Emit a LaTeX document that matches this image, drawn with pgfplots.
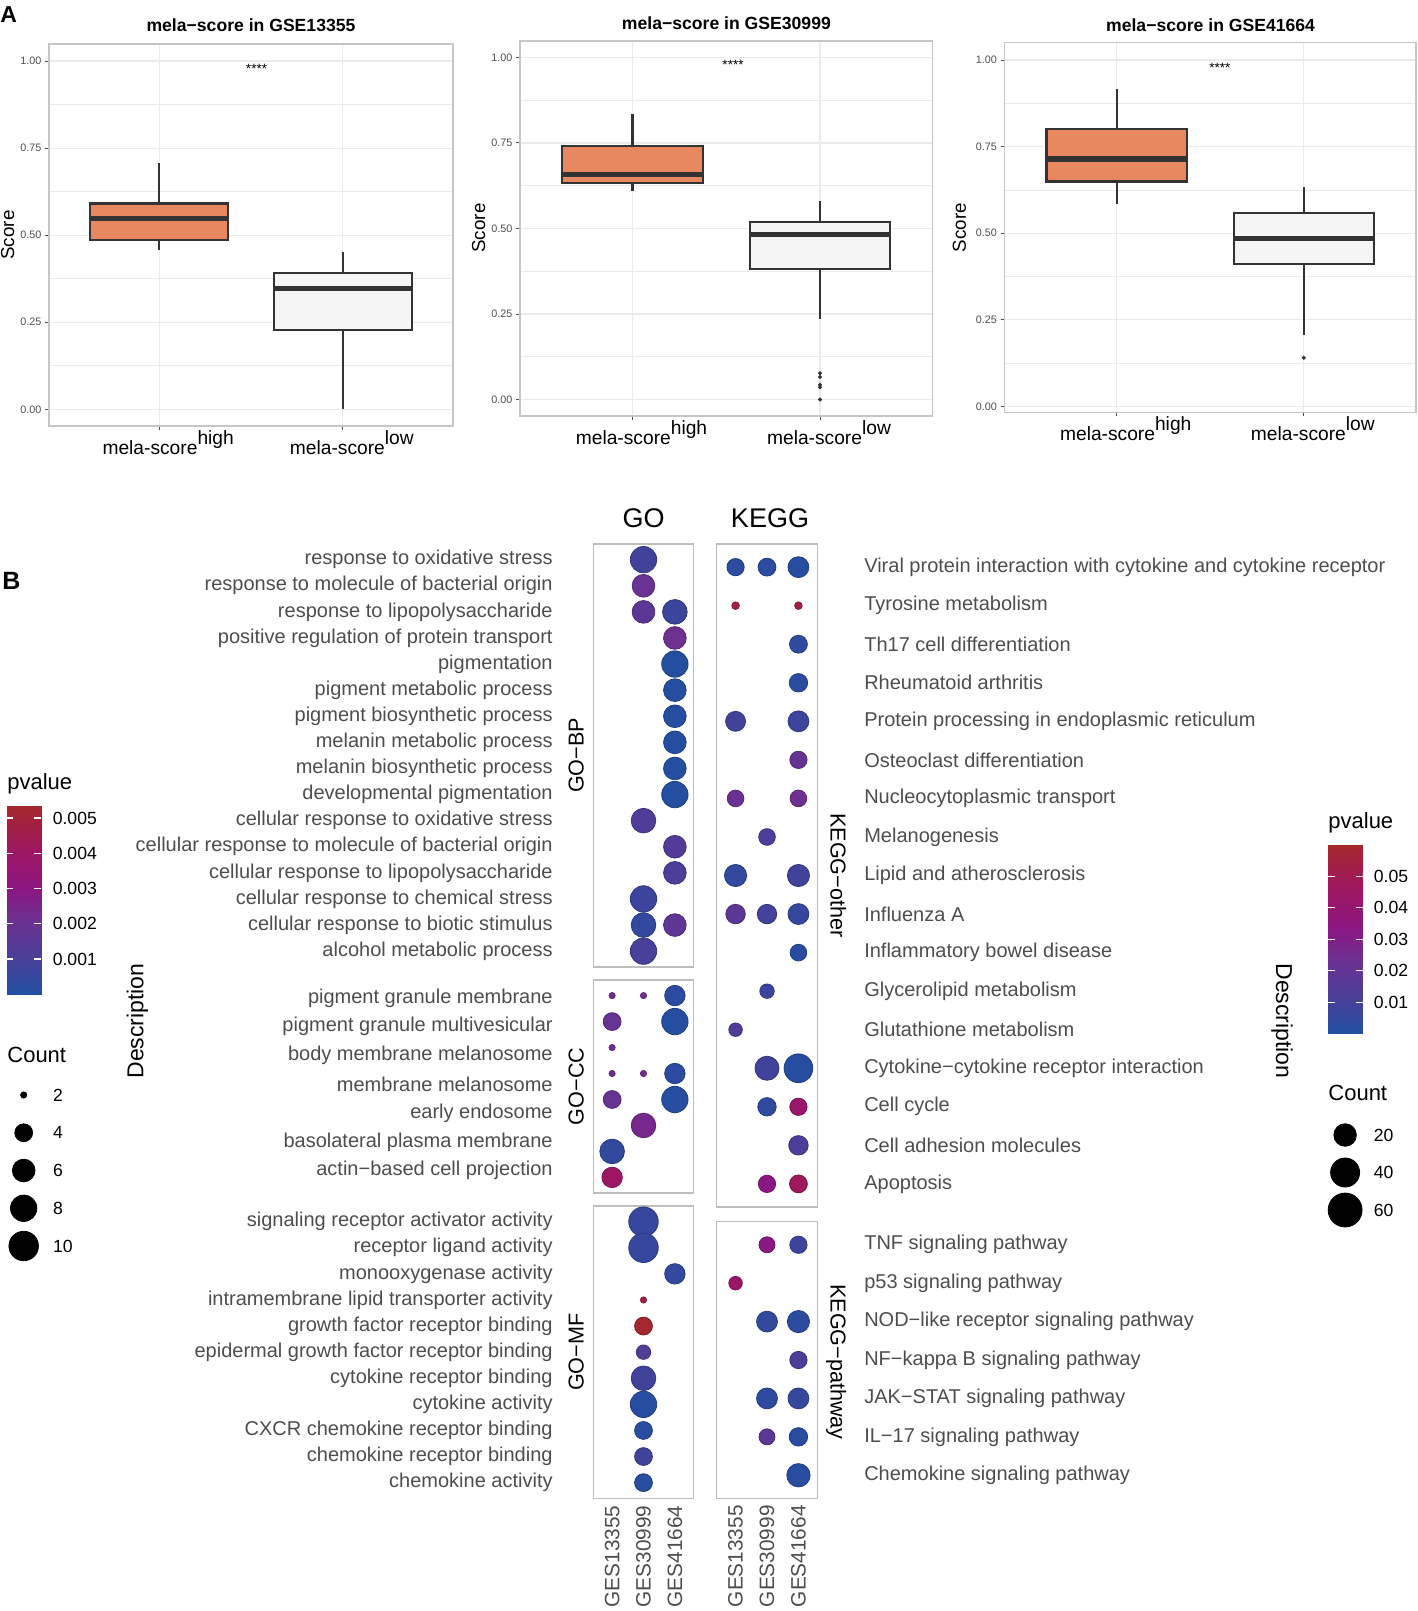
\documentclass[border=0pt]{standalone}
\usepackage{fontspec}
\setmainfont{Liberation Sans}
\usepackage{pgfplots}
\pgfplotsset{compat=1.18}
\usepgfplotslibrary{statistics}
\definecolor{g30}{HTML}{4D4D4D}
\definecolor{g20}{HTML}{333333}
\definecolor{gridc}{HTML}{EBEBEB}
\definecolor{framec}{HTML}{C6C6C6}
\definecolor{frameb}{HTML}{BEBEBE}
\definecolor{boxor}{HTML}{E6875F}
\definecolor{boxlo}{HTML}{F5F5F5}
\newcommand\fs[1]{\fontsize{#1}{#1}\selectfont}
\pgfplotsset{colormap={pv}{rgb255(0pt)=(33,80,162); rgb255(19pt)=(74,63,153); rgb255(40pt)=(110,48,145); rgb255(56pt)=(140,22,130); rgb255(75pt)=(156,22,100); rgb255(94pt)=(163,35,58); rgb255(100pt)=(165,40,45)}}
\pgfplotsset{
 panelA/.style={scale only axis, anchor=north west, xmin=0.4, xmax=2.6, xtick={1,2},
  xticklabels={{mela-score\raisebox{0.52em}{high}},{mela-score\raisebox{0.52em}{low}}},
  ytick={0,0.25,0.5,0.75,1}, yticklabels={0.00,0.25,0.50,0.75,1.00},
  minor ytick={0.125,0.375,0.625,0.875},
  grid=both, major grid style={draw=gridc, line width=0.6pt}, minor grid style={draw=gridc, line width=0.35pt},
  axis line style={draw=framec, line width=0.7pt},
  tick align=outside, tick pos=left, major tick length=2pt, minor tick length=0pt,
  tick style={draw=g30, line width=0.5pt},
  xticklabel style={font=\fs{9.6}, text=black, inner sep=0pt, anchor=north, xshift=4.5pt},
  yticklabel style={font=\fs{5.4}, text=g30, inner sep=1.6pt},
  boxplot/draw direction=y,
  boxplot/box extend=0.75, boxplot/whisker extend=0,
  boxplot/every median/.style={line width=2.6pt},
  clip=false},
 boxhi/.style={draw=g20, fill=boxor, line width=1.1pt},
 boxlo/.style={draw=g20, fill=boxlo, line width=1.1pt},
 dotax/.style={scale only axis, anchor=north west, xmin=0.4, xmax=3.6, y dir=reverse, ymin=0.4,
  axis line style={draw=frameb, line width=0.7pt}, major tick length=0pt, clip=false,
  colormap name=pv, tick label style={font=\fs{10}, text=g30}},
 goleft/.style={yticklabel style={anchor=east, inner sep=0pt, xshift=-20.15pt}},
 kegright/.style={yticklabel pos=right, yticklabel style={anchor=west, inner sep=0pt, xshift=23.3pt}},
 bottomlab/.style={xtick={1,2,3}, xticklabels={GES13355,GES30999,GES41664}, xticklabel style={rotate=90, anchor=east, inner sep=3.35pt, font=\fs{10.4}}},
 gosc/.style={scatter, only marks, mark=*, scatter src=explicit, point meta min=0, point meta max=0.00533,
   visualization depends on={(6.2+8.24*sqrt(\thisrow{cnt}-2))/4 \as \msize},
   scatter/@pre marker code/.append style={/tikz/mark size=\msize, /tikz/line width=0.2pt}},
 kgsc/.style={scatter, only marks, mark=*, scatter src=explicit, point meta min=0, point meta max=0.06,
   visualization depends on={(7.6+3.43*sqrt(\thisrow{cnt}-1))/4 \as \msize},
   scatter/@pre marker code/.append style={/tikz/mark size=\msize, /tikz/line width=0.2pt}},
 cbar/.style={scale only axis, anchor=north west, xmin=0, xmax=1, axis line style={draw=none}, xtick=\empty,
   yticklabel pos=right, major tick length=0pt, scaled y ticks=false,
   yticklabel style={anchor=west, inner sep=0pt, font=\fs{8.8}, text=black}, colormap name=pv, clip=false},
 sleg/.style={scale only axis, anchor=north west, xmin=0, xmax=1, y dir=reverse, axis line style={draw=none}, xtick=\empty,
   yticklabel pos=right, major tick length=0pt,
   yticklabel style={anchor=west, inner sep=0pt, font=\fs{8.8}, text=black}, clip=false},
}
\begin{document}
\begin{tikzpicture}
\path[use as bounding box] (0pt,0pt) rectangle (709pt,-805.5pt);

% ---------------- Panel A ----------------
\begin{axis}[panelA, at={(24.5pt,-22pt)}, width=202pt, height=191pt, ymin=-0.048, ymax=1.049]
\addplot[boxhi, boxplot prepared={draw position=1, lower whisker=0.457, lower quartile=0.486, median=0.548, upper quartile=0.591, upper whisker=0.706}] coordinates {};
\addplot[boxlo, boxplot prepared={draw position=2, lower whisker=0.0, lower quartile=0.228, median=0.346, upper quartile=0.392, upper whisker=0.451}] coordinates {};
\node[anchor=base, font=\fs{6.75}] at (axis cs:1.53,0.964) {****};
\end{axis}

\begin{axis}[panelA, at={(260pt,-20.5pt)}, width=206.25pt, height=187.5pt, ymin=-0.048, ymax=1.048]
\addplot[boxhi, boxplot prepared={draw position=1, lower whisker=0.609, lower quartile=0.633, median=0.657, upper quartile=0.742, upper whisker=0.836}] coordinates {};
\addplot[boxlo, boxplot prepared={draw position=2, lower whisker=0.235, lower quartile=0.381, median=0.483, upper quartile=0.518, upper whisker=0.580}] coordinates {};
\addplot[only marks, mark=*, mark size=0.8pt, g20] coordinates {(2,0.077) (2,0.066) (2,0.043) (2,0.036) (2,0.0)};
\node[anchor=base, font=\fs{6.75}] at (axis cs:1.536,0.964) {****};
\end{axis}

\begin{axis}[panelA, at={(502.25pt,-21.35pt)}, width=205.75pt, height=184.8pt, ymin=-0.0173, ymax=1.05]
\addplot[boxhi, boxplot prepared={draw position=1, lower whisker=0.584, lower quartile=0.649, median=0.714, upper quartile=0.800, upper whisker=0.916}] coordinates {};
\addplot[boxlo, boxplot prepared={draw position=2, lower whisker=0.206, lower quartile=0.410, median=0.485, upper quartile=0.559, upper whisker=0.633}] coordinates {};
\addplot[only marks, mark=*, mark size=0.8pt, g20] coordinates {(2,0.140)};
\node[anchor=base, font=\fs{6.75}] at (axis cs:1.552,0.963) {****};
\end{axis}

\node[anchor=base, font=\bfseries\fs{8.8}] at (125.5pt,-15.75pt) {mela−score in GSE13355};
\node[anchor=base, font=\bfseries\fs{8.8}] at (363.2pt,-14.65pt) {mela−score in GSE30999};
\node[anchor=base, font=\bfseries\fs{8.8}] at (605.3pt,-15.85pt) {mela−score in GSE41664};
\node[rotate=90, anchor=base, font=\fs{9.4}] at (7pt,-117.5pt) {Score};
\node[rotate=90, anchor=base, font=\fs{9.4}] at (242.5pt,-114pt) {Score};
\node[rotate=90, anchor=base, font=\fs{9.4}] at (482.9pt,-113.85pt) {Score};
\node[anchor=base west, inner sep=0pt, font=\bfseries\fs{11.5}] at (0pt,-11.5pt) {A};
\node[anchor=base west, inner sep=0pt, font=\bfseries\fs{12.5}] at (1pt,-294.5pt) {B};

% ---------------- Panel B: GO ----------------
\begin{axis}[dotax, goleft, at={(296.65pt,-272pt)}, width=50.2pt, height=211.4pt, ymax=16.6, xtick=\empty,
 ytick={1,...,16},
 yticklabels={response to oxidative stress, response to molecule of bacterial origin, response to lipopolysaccharide, positive regulation of protein transport, pigmentation, pigment metabolic process, pigment biosynthetic process, melanin metabolic process, melanin biosynthetic process, developmental pigmentation, cellular response to oxidative stress, cellular response to molecule of bacterial origin, cellular response to lipopolysaccharide, cellular response to chemical stress, cellular response to biotic stimulus, alcohol metabolic process}]
\addplot[gosc] table[x=col, y=row, meta=p, row sep=\\] {
row col cnt p\\
1 2 8 0.0008\\
2 2 6 0.0020\\
3 2 6 0.0016\\
3 3 7 0.00064\\
4 3 6 0.00213\\
5 3 8 0.0001\\
6 3 6 0.0001\\
7 3 6 0.0001\\
8 3 6 0.0001\\
9 3 6 0.0001\\
10 3 8 0.0001\\
11 2 7 0.00117\\
12 3 6 0.00133\\
13 3 6 0.00107\\
14 2 8 0.00069\\
15 2 7 0.00043\\
15 3 6 0.0017\\
16 2 8 0.00096\\
};
\end{axis}

\begin{axis}[dotax, goleft, at={(296.65pt,-490pt)}, width=50.2pt, height=106.5pt, ymax=8.6, xtick=\empty,
 ytick={1.09,2.198,3.306,4.414,5.522,6.63,7.74},
 yticklabels={pigment granule membrane, pigment granule multivesicular, body membrane melanosome, membrane melanosome, early endosome, basolateral plasma membrane, actin−based cell projection}]
\addplot[gosc] table[x=col, y=row, meta=p, row sep=\\] {
row col cnt p\\
1 1 2 0.00213\\
1 2 2 0.00213\\
1 3 5 0.00027\\
2 1 4 0.00187\\
2 3 8 0.00016\\
3 1 2 0.00213\\
4 1 2 0.00213\\
4 2 2 0.00224\\
4 3 5 0.00027\\
5 1 4 0.00187\\
5 3 8 0.00016\\
6 2 7 0.0024\\
7 1 7 0.00043\\
8 1 5 0.0040\\
};
\end{axis}

\begin{axis}[dotax, goleft, bottomlab, at={(296.65pt,-603pt)}, width=50.2pt, height=146.15pt, ymax=11.6,
 ytick={1,...,11},
 yticklabels={signaling receptor activator activity, receptor ligand activity, monooxygenase activity, intramembrane lipid transporter activity, growth factor receptor binding, epidermal growth factor receptor binding, cytokine receptor binding, cytokine activity, CXCR chemokine receptor binding, chemokine receptor binding, chemokine activity}]
\addplot[gosc] table[x=col, y=row, meta=p, row sep=\\] {
row col cnt p\\
1 2 10 0.00053\\
2 2 10 0.00053\\
3 3 5 0.00043\\
4 2 2 0.0048\\
5 2 4 0.00528\\
6 2 3 0.00117\\
7 2 7 0.0008\\
8 2 8 0.00016\\
9 2 4 0.0002\\
10 2 4 0.0008\\
11 2 4 0.0002\\
};
\end{axis}

% ---------------- Panel B: KEGG ----------------
\begin{axis}[dotax, kegright, at={(358.35pt,-272pt)}, width=50.3pt, height=331.5pt, ymax=17.6, xtick=\empty,
 ytick={1,...,17},
 yticklabels={Viral protein interaction with cytokine and cytokine receptor, Tyrosine metabolism, Th17 cell differentiation, Rheumatoid arthritis, Protein processing in endoplasmic reticulum, Osteoclast differentiation, Nucleocytoplasmic transport, Melanogenesis, Lipid and atherosclerosis, Influenza A, Inflammatory bowel disease, Glycerolipid metabolism, Glutathione metabolism, Cytokine−cytokine receptor interaction, Cell cycle, Cell adhesion molecules, Apoptosis}]
\addplot[kgsc] table[x=col, y=row, meta=p, row sep=\\] {
row col cnt p\\
1 1 9 0.003\\
1 2 10 0.003\\
1 3 16 0.0018\\
2 1 1 0.054\\
2 3 1 0.054\\
3 3 10 0.003\\
4 3 11 0.003\\
5 1 14 0.009\\
5 3 16 0.0078\\
6 3 9 0.021\\
7 1 8 0.0228\\
7 3 8 0.024\\
8 2 8 0.012\\
9 1 19 0.0048\\
9 3 19 0.009\\
10 1 13 0.018\\
10 2 13 0.0096\\
10 3 16 0.006\\
11 3 8 0.0024\\
12 2 5 0.0072\\
13 1 4 0.0132\\
14 2 24 0.009\\
14 3 39 0.0018\\
15 2 11 0.0036\\
15 3 9 0.042\\
16 3 13 0.012\\
17 2 9 0.033\\
17 3 10 0.0468\\
};
\end{axis}

\begin{axis}[dotax, kegright, bottomlab, at={(358.35pt,-610.85pt)}, width=50.3pt, height=138.3pt, ymax=7.6,
 ytick={1,...,7},
 yticklabels={TNF signaling pathway, p53 signaling pathway, NOD−like receptor signaling pathway, NF−kappa B signaling pathway, JAK−STAT signaling pathway, IL−17 signaling pathway, Chemokine signaling pathway}]
\addplot[kgsc] table[x=col, y=row, meta=p, row sep=\\] {
row col cnt p\\
1 2 7 0.033\\
1 3 9 0.0078\\
2 1 4 0.0432\\
3 2 16 0.0048\\
3 3 19 0.003\\
4 3 9 0.012\\
5 2 16 0.0036\\
5 3 16 0.006\\
6 2 7 0.018\\
6 3 11 0.0024\\
7 3 22 0.0018\\
};
\end{axis}

% ---------------- Legends ----------------
\begin{axis}[cbar, at={(3.25pt,-403.2pt)}, width=17.4pt, height=93.95pt, ymin=0, ymax=0.00533,
 point meta min=0, point meta max=0.00533,
 ytick={0.001,0.002,0.003,0.004,0.005}, yticklabels={0.001,0.002,0.003,0.004,0.005},
 yticklabel style={xshift=5.55pt}]
\addplot[surf, shader=interp, point meta=y, mesh/cols=2] table[row sep=\\] {x y\\ 0 0\\ 1 0\\ 0 0.00533\\ 1 0.00533\\};
\pgfplotsinvokeforeach{0.001,0.002,0.003,0.004,0.005}{\draw[white, line width=0.6pt] (axis cs:0,#1) -- (axis cs:0.2,#1) (axis cs:0.8,#1) -- (axis cs:1,#1);}
\end{axis}

\begin{axis}[sleg, at={(1.85pt,-538.06pt)}, width=20pt, height=94.375pt, ymin=1, ymax=11,
 ytick={2,4,6,8,10}, yticklabels={2,4,6,8,10}, yticklabel style={xshift=4.55pt}]
\addplot[scatter, only marks, mark=*, scatter/use mapped color={draw=black, fill=black},
   visualization depends on={(6.2+8.24*sqrt(\thisrow{cnt}-2))/4 \as \msize},
   scatter/@pre marker code/.append style={/tikz/mark size=\msize, /tikz/line width=0.2pt}]
   table[x=x, y=cnt, row sep=\\] {x cnt\\ 0.5 2\\ 0.5 4\\ 0.5 6\\ 0.5 8\\ 0.5 10\\};
\end{axis}

\begin{axis}[cbar, at={(664.1pt,-422.5pt)}, width=17.15pt, height=94.3pt, ymin=0, ymax=0.06,
 point meta min=0, point meta max=0.06,
 ytick={0.01,0.02,0.03,0.04,0.05}, yticklabels={0.01,0.02,0.03,0.04,0.05},
 yticklabel style={xshift=5.5pt}]
\addplot[surf, shader=interp, point meta=y, mesh/cols=2] table[row sep=\\] {x y\\ 0 0\\ 1 0\\ 0 0.06\\ 1 0.06\\};
\pgfplotsinvokeforeach{0.01,0.02,0.03,0.04,0.05}{\draw[white, line width=0.6pt] (axis cs:0,#1) -- (axis cs:0.2,#1) (axis cs:0.8,#1) -- (axis cs:1,#1);}
\end{axis}

\begin{axis}[sleg, at={(662.55pt,-558.125pt)}, width=20pt, height=56.25pt, ymin=10, ymax=70,
 ytick={20,40,60}, yticklabels={20,40,60}, yticklabel style={xshift=4.2pt}]
\addplot[scatter, only marks, mark=*, scatter/use mapped color={draw=black, fill=black},
   visualization depends on={(7.6+3.43*sqrt(\thisrow{cnt}-1))/4 \as \msize},
   scatter/@pre marker code/.append style={/tikz/mark size=\msize, /tikz/line width=0.2pt}]
   table[x=x, y=cnt, row sep=\\] {x cnt\\ 0.5 20\\ 0.5 40\\ 0.5 60\\};
\end{axis}

% ---------------- Panel B text ----------------
\node[anchor=base, font=\fs{13.5}] at (321.75pt,-263.5pt) {GO};
\node[anchor=base, font=\fs{13.5}] at (385pt,-263.5pt) {KEGG};
\node[rotate=90, anchor=base, font=\fs{10.8}] at (291.8pt,-377.7pt) {GO−BP};
\node[rotate=90, anchor=base, font=\fs{10.8}] at (291.8pt,-543.25pt) {GO−CC};
\node[rotate=90, anchor=base, font=\fs{10.8}] at (291.8pt,-676.1pt) {GO−MF};
\node[rotate=-90, anchor=base, font=\fs{10.8}] at (415.35pt,-437.75pt) {KEGG−other};
\node[rotate=-90, anchor=base, font=\fs{10.8}] at (415.35pt,-681pt) {KEGG−pathway};
\node[rotate=90, font=\fs{11.5}] at (68.75pt,-510.5pt) {Description};
\node[rotate=-90, font=\fs{11.5}] at (641pt,-510.5pt) {Description};
\node[anchor=west, inner sep=0pt, font=\fs{11}] at (3.5pt,-392pt) {pvalue};
\node[anchor=west, inner sep=0pt, font=\fs{11}] at (3.5pt,-527.35pt) {Count};
\node[anchor=west, inner sep=0pt, font=\fs{11}] at (664pt,-411.5pt) {pvalue};
\node[anchor=west, inner sep=0pt, font=\fs{11}] at (664pt,-546.5pt) {Count};
\end{tikzpicture}
\end{document}
